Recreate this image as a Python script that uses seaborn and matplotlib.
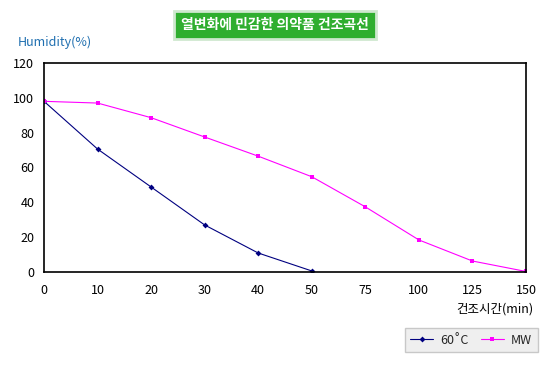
import pandas as pd
import matplotlib.pyplot as plt
import seaborn as sns

times = ['0', '10', '20', '30', '40', '50', '75', '100', '125', '150']
temp60_times = ['0', '10', '20', '30', '40', '50']
temp60_vals = [98, 70.6, 48.8, 27, 10.9, 0.6]
mw_vals = [98, 97, 88.6, 77.5, 66.5, 54.7, 37.4, 18.4, 6.3, 0.3]

df60 = pd.DataFrame({'time': temp60_times, 'humidity': temp60_vals})
dfmw = pd.DataFrame({'time': times, 'humidity': mw_vals})

sns.set_style('white')
plt.rcParams['font.family'] = ['Noto Sans CJK KR', 'DejaVu Sans']

fig = plt.figure(figsize=(5.5, 3.65), dpi=100)
ax = fig.add_axes([0.08, 0.2548, 0.8764, 0.5726])

sns.lineplot(data=df60, x='time', y='humidity', ax=ax, color='#000080', lw=0.8,
             marker='D', markersize=3, markeredgewidth=0, label='60˚C', sort=False)
sns.lineplot(data=dfmw, x='time', y='humidity', ax=ax, color='#ff00ff', lw=0.8,
             marker='s', markersize=3.5, markeredgewidth=0, label='MW', sort=False)

ax.set_xlim(0, len(times) - 1)
ax.set_ylim(0, 120)
ax.set_yticks(range(0, 121, 20))
ax.set_xlabel('')
ax.set_ylabel('')
ax.tick_params(direction='in', length=3, width=1, labelsize=9, colors='black')
ax.tick_params(axis='x', pad=9)
ax.tick_params(axis='y', pad=7)
for s in ax.spines.values():
    s.set_color('black')
    s.set_linewidth(1.2)

fig.text(0.033, 0.875, 'Humidity(%)', color='#1f6fb0', fontsize=9)
fig.text(0.83, 0.145, '건조시간(min)', color='black', fontsize=9)

fig.text(0.5, 0.932, '열변화에 민감한 의약품 건조곡선', color='white', fontsize=10,
         fontweight='bold', ha='center', va='center',
         bbox=dict(boxstyle='square,pad=0.5', facecolor='#2fae2f', edgecolor='#cfe8cf', lw=2))

ax.get_legend().remove()
handles, labels = ax.get_legend_handles_labels()
leg = fig.legend(handles, labels, loc='center', bbox_to_anchor=(0.857, 0.068),
                 bbox_transform=fig.transFigure, ncol=2, frameon=True,
                 fontsize=9, handlelength=1.8, handletextpad=0.6, columnspacing=1.0,
                 borderpad=0.45, fancybox=False)
leg.get_frame().set_facecolor('#ececec')
leg.get_frame().set_edgecolor('#bdbdbd')

plt.savefig('out.png', dpi=100)
plt.close()
